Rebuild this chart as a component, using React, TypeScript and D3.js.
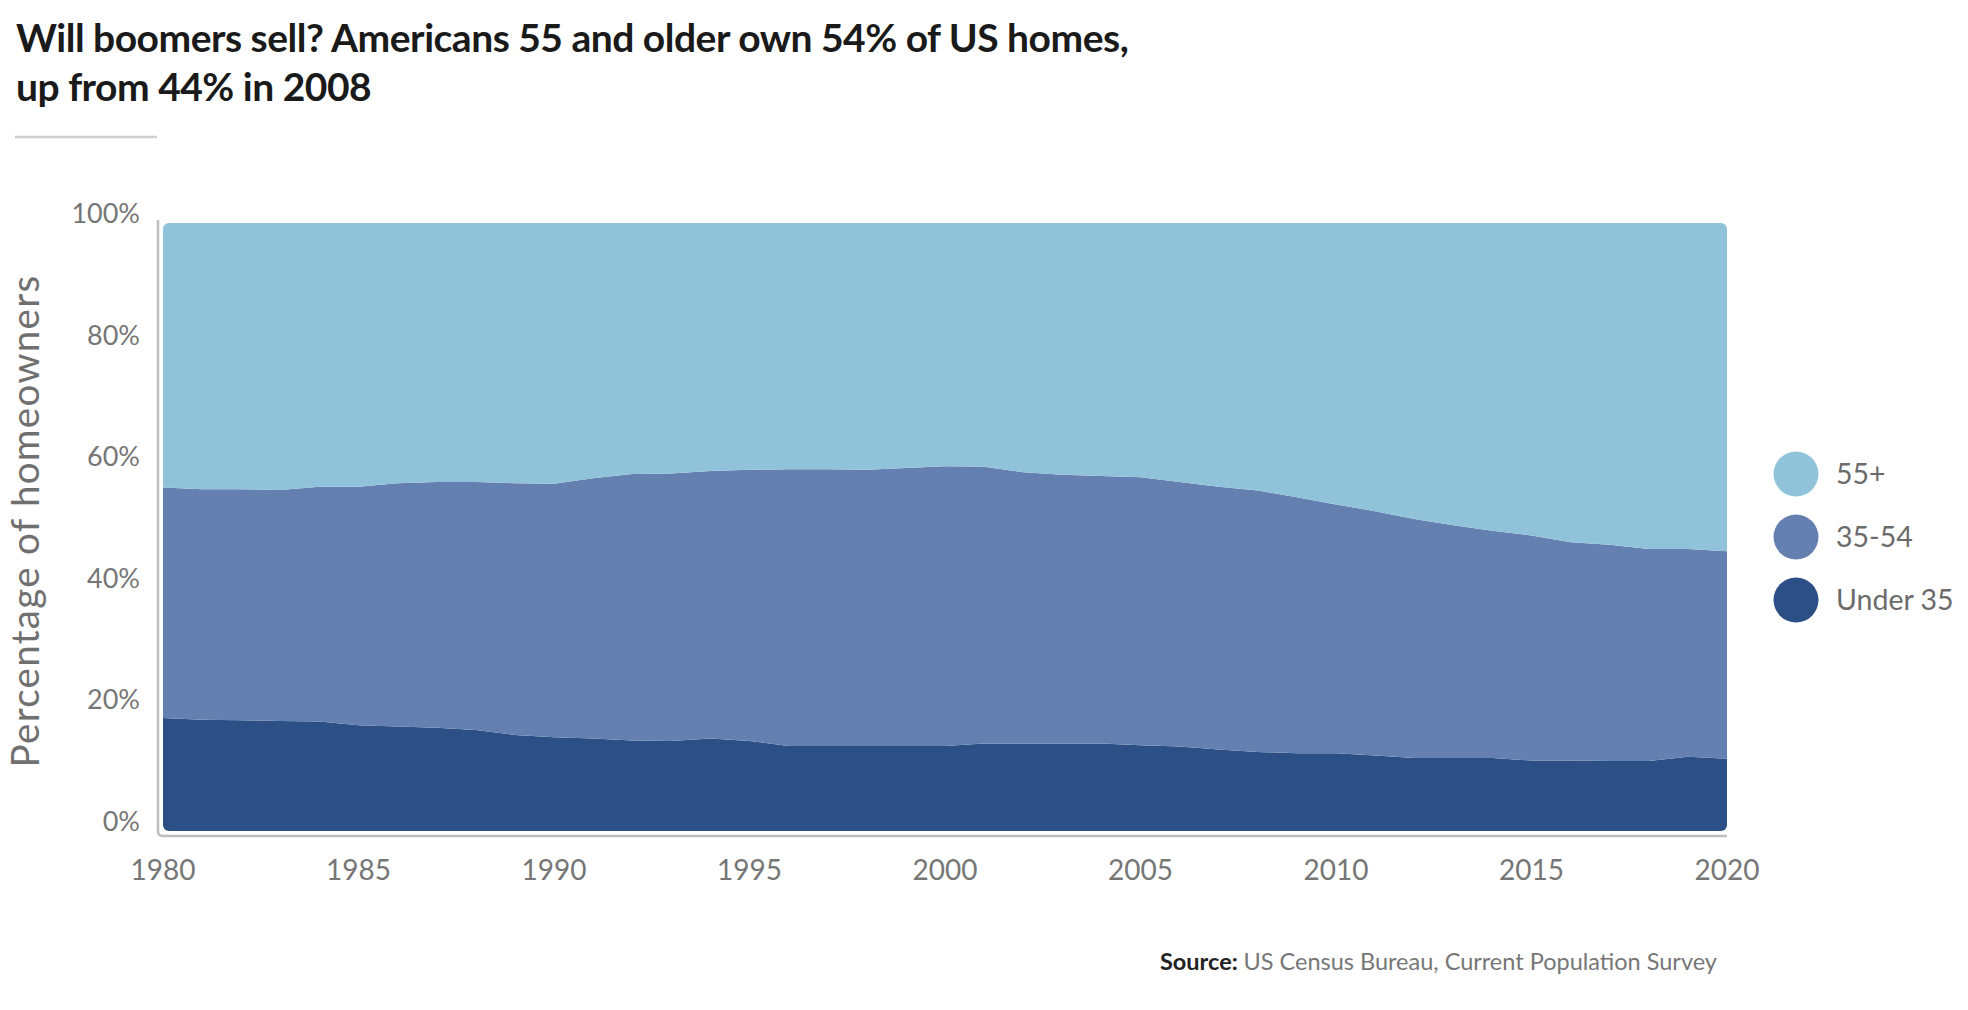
import React, { useEffect, useRef } from 'react';
import * as d3 from 'd3';

const years = d3.range(1980, 2021);

// share of homeowners by age of householder (%)
const under35 = [
  18.6, 18.3, 18.2, 18.1, 18.0, 17.4, 17.2, 17.0, 16.6, 15.8,
  15.4, 15.2, 14.9, 14.8, 15.2, 14.8, 14.0, 14.0, 14.0, 14.0,
  14.0, 14.4, 14.4, 14.4, 14.4, 14.1, 13.9, 13.4, 13.0, 12.8,
  12.8, 12.4, 12.0, 12.0, 12.0, 11.6, 11.6, 11.5, 11.5, 12.2,
  11.9,
];
const age35to54 = [
  37.9, 37.9, 38.0, 38.0, 38.6, 39.2, 40.0, 40.4, 40.8, 41.4,
  41.7, 42.8, 43.8, 44.0, 44.0, 44.6, 45.5, 45.5, 45.4, 45.7,
  46.0, 45.5, 44.6, 44.2, 44.0, 44.1, 43.5, 43.2, 43.0, 42.1,
  40.9, 40.2, 39.3, 38.3, 37.4, 37.0, 35.9, 35.6, 34.9, 34.2,
  34.1,
];
const age55plus = [
  43.5, 43.8, 43.8, 43.9, 43.4, 43.4, 42.8, 42.6, 42.6, 42.8,
  42.9, 42.0, 41.3, 41.2, 40.8, 40.6, 40.5, 40.5, 40.6, 40.3,
  40.0, 40.1, 41.0, 41.4, 41.6, 41.8, 42.6, 43.4, 44.0, 45.1,
  46.3, 47.4, 48.7, 49.7, 50.6, 51.4, 52.5, 52.9, 53.6, 53.6,
  54.0,
];

const seriesKeys = ['under35', 'age35to54', 'age55plus'];
const seriesColors = ['#2c4f85', '#6480b1', '#90c3da'];
const legendLabels = ['55+', '35-54', 'Under 35'];
const legendColors = ['#90c3da', '#6480b1', '#2c4f85'];
const yTicks = [0, 20, 40, 60, 80, 100];
const xTicks = [1980, 1985, 1990, 1995, 2000, 2005, 2010, 2015, 2020];

const W = 1968;
const H = 1010;
const FONT = 'Lato, "Noto Sans", sans-serif';

export default function App() {
  const svgRef = useRef<SVGSVGElement>(null);

  useEffect(() => {
    if (!svgRef.current) return;
    const svg = d3.select(svgRef.current);
    svg.selectAll('*').remove();

    const plot = { left: 163, right: 1727, top: 223, bottom: 831 };

    const x = d3.scaleLinear().domain([1980, 2020]).range([plot.left, plot.right]);
    const y = d3.scaleLinear().domain([0, 100]).range([plot.bottom, plot.top]);

    const rows = years.map((yr, i) => ({
      year: yr,
      under35: under35[i],
      age35to54: age35to54[i],
      age55plus: age55plus[i],
    }));

    const stacked = d3.stack<any>().keys(seriesKeys)(rows);

    // title
    const title = svg.append('g')
      .style('font-family', FONT)
      .style('font-weight', 700)
      .style('font-size', '39px')
      .attr('fill', '#1a1a1a');
    title.append('text').attr('x', 16).attr('y', 52)
      .attr('letter-spacing', -0.5)
      .text('Will boomers sell? Americans 55 and older own 54% of US homes,');
    title.append('text').attr('x', 16).attr('y', 101)
      .attr('letter-spacing', -0.5)
      .text('up from 44% in 2008');

    svg.append('line')
      .attr('x1', 15).attr('x2', 157)
      .attr('y1', 137).attr('y2', 137)
      .attr('stroke', '#cfcfcf').attr('stroke-width', 2.5);

    // clipped stacked area
    const defs = svg.append('defs');
    defs.append('clipPath').attr('id', 'plotClip')
      .append('rect')
      .attr('x', plot.left).attr('y', plot.top)
      .attr('width', plot.right - plot.left)
      .attr('height', plot.bottom - plot.top)
      .attr('rx', 6);

    const area = d3.area<any>()
      .x(d => x(d.data.year))
      .y0(d => y(d[0]))
      .y1(d => y(d[1]))
      .curve(d3.curveLinear);

    svg.append('g')
      .attr('clip-path', 'url(#plotClip)')
      .selectAll('path')
      .data(stacked)
      .enter().append('path')
      .attr('fill', (d, i) => seriesColors[i])
      .attr('d', area as any);

    // axis frame (left + bottom, rounded corner)
    svg.append('path')
      .attr('d', `M${plot.left - 5},${plot.top - 3} V${plot.bottom} Q${plot.left - 5},${plot.bottom + 5} ${plot.left},${plot.bottom + 5} H${plot.right}`)
      .attr('fill', 'none')
      .attr('stroke', '#bdbdbd')
      .attr('stroke-width', 2.5);

    // y tick labels
    svg.append('g')
      .style('font-family', FONT)
      .style('font-size', '27px')
      .attr('fill', '#767676')
      .selectAll('text')
      .data(yTicks)
      .enter().append('text')
      .attr('x', 140)
      .attr('y', d => y(d))
      .attr('text-anchor', 'end')
      .text(d => `${d}%`);

    // x tick labels
    svg.append('g')
      .style('font-family', FONT)
      .style('font-size', '28px')
      .attr('fill', '#767676')
      .selectAll('text')
      .data(xTicks)
      .enter().append('text')
      .attr('x', d => x(d))
      .attr('y', 880)
      .attr('text-anchor', 'middle')
      .text(d => String(d));

    // y axis title
    svg.append('text')
      .attr('transform', `translate(39, 521) rotate(-90)`)
      .attr('text-anchor', 'middle')
      .attr('letter-spacing', 1.3)
      .style('font-family', FONT)
      .style('font-size', '38.5px')
      .attr('fill', '#707070')
      .text('Percentage of homeowners');

    // legend
    const legend = svg.append('g')
      .selectAll('g')
      .data(legendLabels)
      .enter().append('g')
      .attr('transform', (d, i) => `translate(1796, ${474 + i * 63})`);

    legend.append('circle')
      .attr('r', 22.5)
      .attr('fill', (d, i) => legendColors[i]);

    legend.append('text')
      .attr('x', 40)
      .attr('dy', '0.35em')
      .style('font-family', FONT)
      .style('font-size', '28.5px')
      .attr('fill', '#6b6b6b')
      .text(d => d);

    // source
    const src = svg.append('text')
      .attr('x', 1160).attr('y', 970)
      .style('font-family', FONT)
      .style('font-size', '23.5px');
    src.append('tspan').attr('font-weight', 700).attr('fill', '#222').text('Source: ');
    src.append('tspan').attr('fill', '#777').text('US Census Bureau, Current Population Survey');
  }, []);

  return (
    <div style={{ position: 'absolute', left: 0, top: 0, background: '#fff' }}>
      <svg ref={svgRef} width={W} height={H} />
    </div>
  );
}
